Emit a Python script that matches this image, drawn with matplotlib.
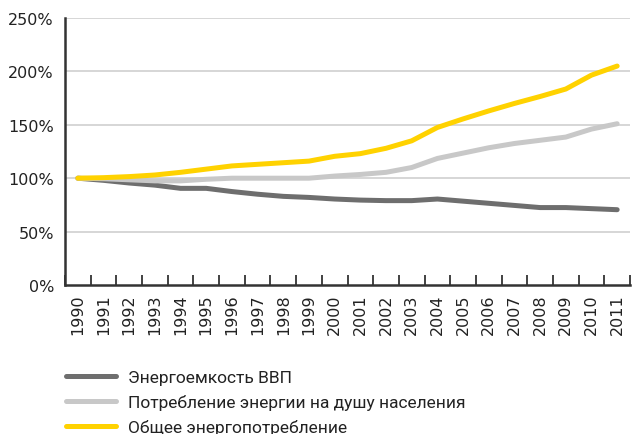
import matplotlib
matplotlib.use("Agg")
import matplotlib.pyplot as plt
import numpy as np

years = [str(y) for y in range(1990, 2012)]
energy_intensity = [100, 98, 95.5, 93.5, 90.5, 90.5, 87.5, 85, 83, 82, 80.5, 79.5, 79, 79, 80.5, 78.5, 76.5, 74.5, 72.5, 72.5, 71.5, 70.5]
per_capita = [100, 99.5, 98.5, 97.5, 97.5, 99, 100, 100, 100, 100, 102, 103.5, 105.5, 110, 118.5, 123.5, 128.5, 132.5, 135.5, 138.5, 146, 151]
total = [100, 100.5, 101.5, 103, 105.5, 108.5, 111.5, 113, 114.5, 116, 120.5, 123, 128, 135, 147.5, 155.5, 163, 170, 176.5, 183.5, 196.5, 205]

labels = ["Энергоемкость ВВП", "Потребление энергии на душу населения", "Общее энергопотребление"]
colors = ["#6e6e6e", "#c8c8c8", "#ffd200"]
yticks = [0, 50, 100, 150, 200, 250]

plt.rcParams['font.family'] = ['DejaVu Sans']
fig = plt.figure(figsize=(6.32, 4.35), dpi=100)
ax = fig.add_axes([65/632, 1-286/435, 565/632, (286-19)/435])

x = np.arange(len(years))
lines = []
for vals, c, lab in zip([energy_intensity, per_capita, total], colors, labels):
    l, = ax.plot(x, vals, color=c, lw=3.6, solid_capstyle='round', solid_joinstyle='round', label=lab, zorder=3)
    lines.append(l)

ax.set_xlim(-0.5, len(years) - 0.5)
ax.set_ylim(0, 250)
ax.set_yticks(yticks)
ax.set_yticklabels([f"{v}%" for v in yticks], fontsize=11.5, color="#222222")
ax.set_xticks(x)
ax.set_xticklabels(years, rotation=90, fontsize=11.5, color="#222222")
ax.set_xticks(np.arange(-0.5, len(years), 1.0), minor=True)
ax.tick_params(axis='x', which='major', length=0, pad=6)
ax.tick_params(axis='x', which='minor', length=7, width=1.3, direction='in', color="#333333")
ax.tick_params(axis='y', length=0, pad=8)

for v in yticks[1:]:
    ax.axhline(v, color="#d3d3d3", lw=1.3, zorder=1)

for s in ['top', 'right']:
    ax.spines[s].set_visible(False)
for s in ['left', 'bottom']:
    ax.spines[s].set_color("#333333")
    ax.spines[s].set_linewidth(1.8)

leg = fig.legend(handles=lines, labels=labels, loc='upper left',
                 bbox_to_anchor=(65.5/632, 1-370.5/435), frameon=False,
                 borderaxespad=0, borderpad=0,
                 handlelength=2.9, handletextpad=0.7, labelspacing=0.52,
                 prop={'family': 'Roboto', 'size': 12.5})
for t in leg.get_texts():
    t.set_color("#222222")

fig.savefig("out.png", dpi=100)
